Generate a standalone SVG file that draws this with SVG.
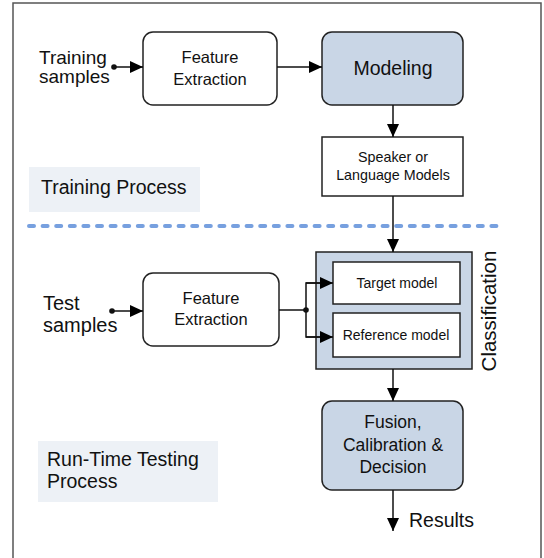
<svg xmlns="http://www.w3.org/2000/svg" width="544" height="558" viewBox="0 0 544 558">
  <defs>
    <marker id="ah" viewBox="0 0 13 12" refX="13" refY="6" markerWidth="13" markerHeight="12" markerUnits="userSpaceOnUse" orient="auto">
      <path d="M0,0 L13,6 L0,12 Z" fill="#000"/>
    </marker>
    <style>
      text { font-family: "Liberation Sans", Arial, sans-serif; fill: #111; }
      .box { stroke: #222; stroke-width: 1.5; }
      .plain { fill: #fff; }
      .blue { fill: #c9d6e6; }
      .lbl { fill: #edf1f6; }
      .conn { stroke: #111; stroke-width: 1.5; fill: none; }
      .m { text-anchor: middle; }
    </style>
  </defs>
  <rect x="0" y="0" width="544" height="558" fill="#fff"/>
  <path d="M13,558 L13,3 L541,3 L541,558" fill="none" stroke="#555" stroke-width="1.5"/>

  <g id="training-label">
    <rect class="lbl" x="29" y="167" width="171" height="45"/>
    <text x="41" y="194" font-size="19.5">Training Process</text>
  </g>
  <g id="testing-label">
    <rect class="lbl" x="38" y="441" width="180" height="61"/>
    <text x="47" y="466" font-size="19.5">Run-Time Testing</text>
    <text x="47" y="488" font-size="19.5">Process</text>
  </g>
  <line x1="29" y1="226" x2="500" y2="226" stroke="#77a0df" stroke-width="4" stroke-linecap="round" stroke-dasharray="5 8.6"/>

  <g id="training-samples">
    <text x="39" y="64" font-size="19">Training</text>
    <text x="39" y="83" font-size="19">samples</text>
  </g>
  <g id="fe-train">
    <rect class="box plain" x="143" y="32" width="134" height="73" rx="10"/>
    <text class="m" x="210" y="63" font-size="16.5">Feature</text>
    <text class="m" x="210" y="85" font-size="16.5">Extraction</text>
  </g>
  <g id="modeling">
    <rect class="box blue" x="322" y="32" width="141" height="73" rx="10"/>
    <text class="m" x="393" y="75" font-size="19.5">Modeling</text>
  </g>
  <g id="models">
    <rect class="box plain" x="322" y="137" width="141" height="59"/>
    <text class="m" x="393" y="162" font-size="14.3">Speaker or</text>
    <text class="m" x="393" y="180" font-size="14.3">Language Models</text>
  </g>

  <g id="test-samples">
    <text x="43" y="310" font-size="20">Test</text>
    <text x="43" y="332" font-size="20">samples</text>
  </g>
  <g id="fe-test">
    <rect class="box plain" x="143" y="273" width="136" height="73" rx="10"/>
    <text class="m" x="211" y="304" font-size="16.5">Feature</text>
    <text class="m" x="211" y="325" font-size="16.5">Extraction</text>
  </g>
  <g id="classification">
    <rect class="box blue" x="316" y="252" width="156" height="117"/>
    <text class="m" transform="translate(496,311) rotate(-90)" font-size="20.5">Classification</text>
  </g>
  <g id="target-model">
    <rect class="box plain" x="333" y="262" width="127" height="42"/>
    <text class="m" x="397" y="288" font-size="14">Target model</text>
  </g>
  <g id="reference-model">
    <rect class="box plain" x="333" y="313" width="127" height="44"/>
    <text class="m" x="396" y="340" font-size="14">Reference model</text>
  </g>
  <g id="fusion">
    <rect class="box blue" x="322" y="401" width="141" height="89" rx="10"/>
    <text class="m" x="393" y="428" font-size="17.5">Fusion,</text>
    <text class="m" x="393" y="451" font-size="17.5">Calibration &amp;</text>
    <text class="m" x="393" y="473" font-size="17.5">Decision</text>
  </g>
  <g id="results">
    <text x="409" y="527" font-size="19.5">Results</text>
  </g>

  <g id="connectors">
    <circle cx="114" cy="67" r="2.8" fill="#111"/>
    <line class="conn" x1="114" y1="67" x2="143" y2="67" marker-end="url(#ah)"/>
    <line class="conn" x1="277" y1="67" x2="322" y2="67" marker-end="url(#ah)"/>
    <line class="conn" x1="393" y1="105" x2="393" y2="137" marker-end="url(#ah)"/>
    <line class="conn" x1="393" y1="196" x2="393" y2="252" marker-end="url(#ah)"/>
    <circle cx="112" cy="311" r="2.8" fill="#111"/>
    <line class="conn" x1="112" y1="311" x2="143" y2="311" marker-end="url(#ah)"/>
    <line class="conn" x1="279" y1="310" x2="306" y2="310"/>
    <circle cx="306" cy="310" r="2.8" fill="#111"/>
    <path class="conn" d="M320,283 L306,283 L306,337 L320,337"/>
    <line class="conn" x1="306" y1="283" x2="333" y2="283" marker-end="url(#ah)"/>
    <line class="conn" x1="306" y1="337" x2="333" y2="337" marker-end="url(#ah)"/>
    <line class="conn" x1="393" y1="369" x2="393" y2="401" marker-end="url(#ah)"/>
    <line class="conn" x1="393" y1="490" x2="393" y2="531" marker-end="url(#ah)"/>
  </g>
</svg>
